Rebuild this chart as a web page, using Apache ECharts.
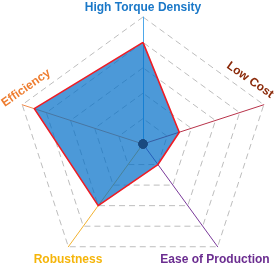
<!DOCTYPE html>
<html>
<head>
<meta charset="utf-8">
<script src="https://cdn.jsdelivr.net/npm/echarts@6/dist/echarts.min.js"></script>
<style>
html,body{margin:0;padding:0;background:#fff;}
#c{width:276px;height:265px;}
</style>
</head>
<body>
<div id="c"></div>
<script>
// Indicators listed counterclockwise from top (ECharts radar order)
const indicators = ['High Torque Density', 'Efficiency', 'Robustness', 'Ease of Production', 'Low Cost'];
const maxValue = 5;
const scores = [4, 4.5, 3, 1, 1.5];
const centerValues = [0, 0, 0, 0, 0];

const axisColors = ['#4ea8ea', '#f08a4b', '#f2b230', '#7a3a9a', '#b8334a'];
const nameColors = ['#1a78c8', '#ee7d30', '#f5b50a', '#6b2d90', '#8b2a0a'];

const chart = echarts.init(document.getElementById('c'), null, {renderer: 'canvas'});
const font = 'Liberation Sans, Arial, sans-serif';

const option = {
  animation: false,
  radar: {
    center: [143, 144],
    radius: 127,
    startAngle: 90,
    shape: 'polygon',
    splitNumber: 5,
    axisName: {show: false},
    splitArea: {show: false},
    splitLine: {lineStyle: {color: '#bdbdbd', type: [6, 4], width: 1}},
    axisLine: {lineStyle: {color: '#999', width: 1}},
    indicator: indicators.map((n, i) => ({
      name: n, max: maxValue, min: 0,
      axisLine: {show: true, lineStyle: {color: axisColors[i], width: 1}}
    }))
  },
  series: [{
    type: 'radar',
    symbol: 'none',
    z: 2,
    data: [{
      value: scores,
      lineStyle: {width: 0, opacity: 0},
      areaStyle: {color: 'rgb(0,110,200)', opacity: 0.7}
    }]
  }, {
    type: 'radar',
    symbol: 'none',
    z: 3,
    data: [{
      value: scores,
      lineStyle: {color: '#ee1c24', width: 1.6}
    }]
  }, {
    type: 'radar',
    z: 4,
    data: [{
      value: centerValues,
      symbol: 'circle',
      symbolSize: 9,
      itemStyle: {color: '#1a4a80'},
      lineStyle: {width: 0, opacity: 0}
    }]
  }],
  graphic: [
    {type: 'text', x: 143, y: 8, style: {text: indicators[0], fill: nameColors[0], font: 'bold 12px ' + font, align: 'center', verticalAlign: 'middle'}},
    {type: 'text', x: 26, y: 88, rotation: 35 * Math.PI / 180, style: {text: indicators[1], fill: nameColors[1], font: 'bold 12px ' + font, align: 'center', verticalAlign: 'middle'}},
    {type: 'text', x: 68, y: 260, style: {text: indicators[2], fill: nameColors[2], font: 'bold 12px ' + font, align: 'center', verticalAlign: 'middle'}},
    {type: 'text', x: 215, y: 260, style: {text: indicators[3], fill: nameColors[3], font: 'bold 12px ' + font, align: 'center', verticalAlign: 'middle'}},
    {type: 'text', x: 250, y: 80, rotation: -35 * Math.PI / 180, style: {text: indicators[4], fill: nameColors[4], font: 'bold 12px ' + font, align: 'center', verticalAlign: 'middle'}}
  ]
};
chart.setOption(option);
</script>
</body>
</html>
